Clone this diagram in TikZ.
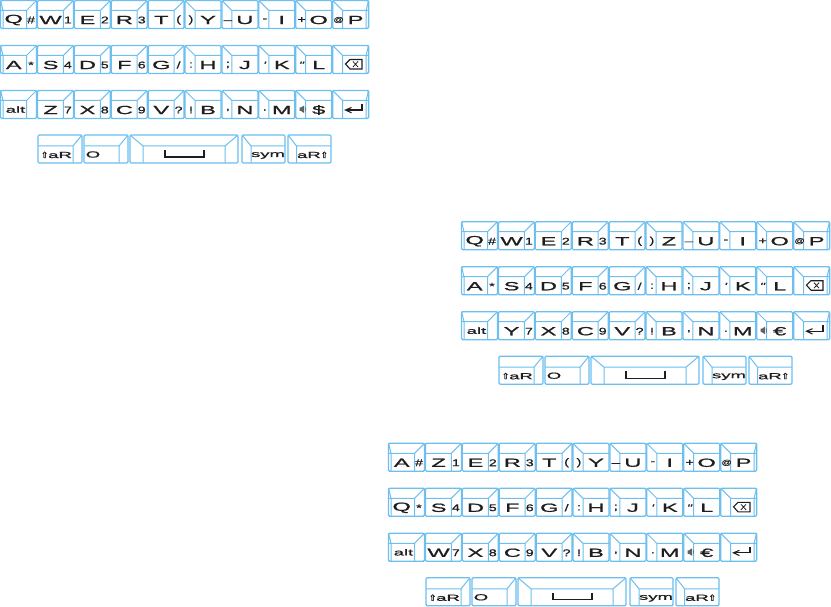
\documentclass[tikz,border=0pt]{standalone}
\usepackage{fontspec}
\setmainfont{Liberation Sans}
\newfontfamily\kfm[FakeStretch=2.0,FakeBold=1.2]{Liberation Sans}
\newfontfamily\kfs[FakeStretch=1.45,FakeBold=0.9]{Liberation Sans}
\newfontfamily\kfl[FakeStretch=2.1,FakeBold=1.1]{Liberation Sans}
\newfontfamily\symf[FakeBold=1]{DejaVu Sans}
\definecolor{keyblue}{HTML}{6CBFEE}
\definecolor{ink}{HTML}{1E1E20}
\tikzset{
  keyline/.style={draw=keyblue,line width=1.3pt,line join=round},
  innerline/.style={draw=keyblue,line width=1pt,line join=round},
  mainlabel/.style={inner sep=0pt,text=ink,font=\kfm\fontsize{11.8}{12}\selectfont},
  sublabel/.style={inner sep=0pt,text=ink,font=\kfs\fontsize{9.8}{10}\selectfont},
  smalllabel/.style={inner sep=0pt,text=ink,font=\kfl\fontsize{8.8}{9}\selectfont},
  iconline/.style={draw=ink,line width=1.1pt,line join=miter}
}
\newcommand{\keyframe}{\draw[keyline,rounded corners=1.2pt] (0,0) rectangle (\kw,28);}
\def\kw{36}
\newcommand{\leftkey}[5]{\begin{scope}[shift={(0.5+36.9*#2,#3)}]
  \keyframe
  \draw[innerline] (0,10) -- (26,10) -- (36,0) (26,10) -- (26,28);
  \ifnum#2=0 \draw[innerline] (0,0) -- (2.5,10) -- (2.5,28);\fi
  \node[mainlabel] (#1) at (13.2,19.5) {#4};
  \node[sublabel] (#1s) at (30.5,19.5) {#5};
\end{scope}}
\newcommand{\rightkey}[5]{\begin{scope}[shift={(0.5+36.9*#2,#3)}]
  \keyframe
  \draw[innerline] (0,0) -- (10,10) -- (36,10) (10,10) -- (10,28);
  \ifnum#2=9 \draw[innerline] (36,0) -- (33.5,10) -- (33.5,28);\fi
  \node[mainlabel] (#1) at (23,19.5) {#4};
  \node[sublabel] (#1s) at (6,19.5) {#5};
\end{scope}}
\newcommand{\board}[8]{\begin{scope}[shift={(#2)}]
  \leftkey{#1a}{0}{0.5}{#3}{\#}
  \leftkey{#1b}{1}{0.5}{#4}{1}
  \leftkey{#1c}{2}{0.5}{E}{2}
  \leftkey{#1d}{3}{0.5}{R}{3}
  \leftkey{#1e}{4}{0.5}{T}{(}
  \rightkey{#1f}{5}{0.5}{#5}{)}
  \rightkey{#1g}{6}{0.5}{U}{\_}
  \rightkey{#1h}{7}{0.5}{I}{-}
  \rightkey{#1i}{8}{0.5}{O}{+}
  \rightkey{#1j}{9}{0.5}{P}{\fontsize{7}{8}\selectfont @}
  \leftkey{#1k}{0}{45.5}{#6}{*}
  \leftkey{#1l}{1}{45.5}{S}{4}
  \leftkey{#1m}{2}{45.5}{D}{5}
  \leftkey{#1n}{3}{45.5}{F}{6}
  \leftkey{#1o}{4}{45.5}{G}{/}
  \rightkey{#1p}{5}{45.5}{H}{:}
  \rightkey{#1q}{6}{45.5}{J}{;}
  \rightkey{#1r}{7}{45.5}{K}{\textit{'}}
  \rightkey{#1t}{8}{45.5}{L}{\textit{"}}
  \rightkey{#1u}{9}{45.5}{}{}
  \draw[iconline] (345.5,64) -- (350,59.5) -- (362,59.5) -- (362,69) -- (350,69) -- cycle;
  \draw[ink,line width=.8pt] (353,61.5) -- (358,67) (358,61.5) -- (353,67);
  \leftkey{#1v}{0}{90.5}{}{}
  \node[smalllabel] (#1alt) at (15.5,109.5) {alt};
  \leftkey{#1w}{1}{90.5}{#7}{7}
  \leftkey{#1x}{2}{90.5}{X}{8}
  \leftkey{#1y}{3}{90.5}{C}{9}
  \leftkey{#1z}{4}{90.5}{V}{?}
  \rightkey{#1A}{5}{90.5}{B}{!}
  \rightkey{#1B}{6}{90.5}{N}{,}
  \rightkey{#1C}{7}{90.5}{M}{.}
  \rightkey{#1D}{8}{90.5}{#8}{}
  \fill[ink!70] (299.5,107.5) rectangle (301,111) (301,107.5) -- (304,105.5) -- (304,113) -- (301,111) -- cycle;
  \draw[ink!70,line width=.5pt] (305,107) to[bend left=30] (305,111.5);
  \rightkey{#1E}{9}{90.5}{}{}
  \draw[iconline] (362,104) -- (362,110) -- (346,110);
  \draw[iconline] (351.5,107.5) -- (345.5,110) -- (351.5,112.8);
  % bottom row
  \begin{scope}[shift={(38,135)}]
    \draw[keyline,rounded corners=1.2pt] (0,0) rectangle (44,28);
    \draw[innerline] (0,11) -- (35,11) -- (44,0) (35,11) -- (35,28);
    \node[smalllabel,anchor=base] (#1F) at (18.5,23) {{\symf\fontsize{8.5}{9}\selectfont ⇧}aR};
  \end{scope}
  \begin{scope}[shift={(84,135)}]
    \draw[keyline,rounded corners=1.2pt] (0,0) rectangle (44,28);
    \draw[innerline] (0,11) -- (35,11) -- (44,0) (35,11) -- (35,28);
    \node[smalllabel] (#1G) at (9,19.5) {O};
  \end{scope}
  \begin{scope}[shift={(130,135)}]
    \draw[keyline,rounded corners=1.2pt] (0,0) rectangle (108,28);
    \draw[innerline] (0,0) -- (13,11) -- (95,11) -- (108,0) (13,11) -- (13,28) (95,11) -- (95,28);
    \draw[ink,line width=1.3pt] (35,15) -- (35,22) -- (74,22) -- (74,15);
  \end{scope}
  \begin{scope}[shift={(242,135)}]
    \draw[keyline,rounded corners=1.2pt] (0,0) rectangle (43,28);
    \draw[innerline] (0,0) -- (9,11) -- (43,11) (9,11) -- (9,28);
    \node[smalllabel] (#1H) at (26,20.5) {sym};
  \end{scope}
  \begin{scope}[shift={(288,135)}]
    \draw[keyline,rounded corners=1.2pt] (0,0) rectangle (43,28);
    \draw[innerline] (0,0) -- (8.5,11) -- (43,11) (8.5,11) -- (8.5,28);
    \node[smalllabel,anchor=base] (#1I) at (24.5,23) {aR{\symf\fontsize{8.5}{9}\selectfont ⇧}};
  \end{scope}
\end{scope}}
\begin{document}
\begin{tikzpicture}[x=1pt,y=-1pt]
\useasboundingbox (0,0) rectangle (831,607);
\board{p}{0,0}{Q}{W}{Y}{A}{Z}{\$}
\board{q}{461,221.2}{Q}{W}{Z}{A}{Y}{€}
\board{r}{388,442.8}{A}{Z}{Y}{Q}{W}{€}
\end{tikzpicture}
\end{document}
